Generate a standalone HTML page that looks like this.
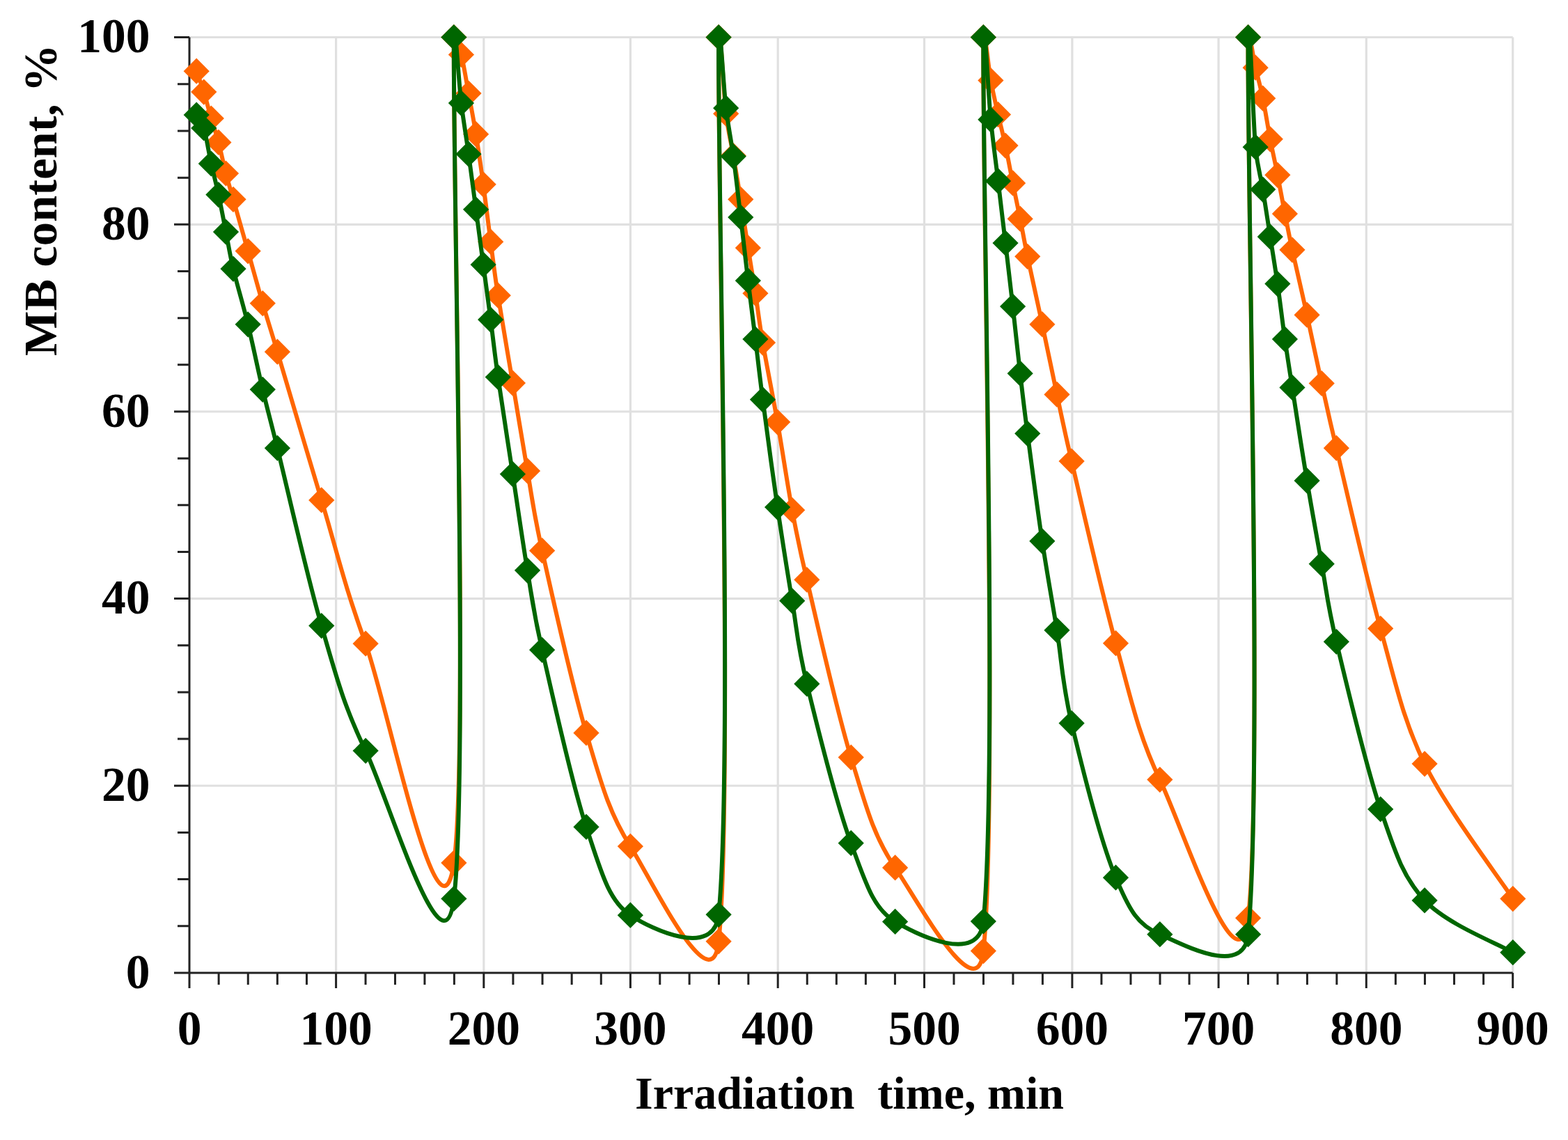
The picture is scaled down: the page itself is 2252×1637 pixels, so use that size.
<!DOCTYPE html>
<html><head><meta charset="utf-8"><title>MB content chart</title>
<style>html,body{margin:0;padding:0;background:#fff;overflow:hidden;}svg{display:block;}</style>
</head><body>
<svg width="2252" height="1637" viewBox="0 0 2252 1637">
<rect width="2252" height="1637" fill="#ffffff"/>
<path d="M272.0,1128.26H2172.7M272.0,859.62H2172.7M272.0,590.98H2172.7M272.0,322.34H2172.7M272.0,53.50H2172.7M482.60,53.5V1396.9M694.80,53.5V1396.9M905.40,53.5V1396.9M1117.20,53.5V1396.9M1327.50,53.5V1396.9M1539.90,53.5V1396.9M1750.10,53.5V1396.9M1962.30,53.5V1396.9M2172.70,53.5V1396.9" stroke="#e0e0e0" stroke-width="3.2" fill="none"/>
<path d="M272.0,53.50V1396.90M250.0,1396.90H2172.70M250.0,1396.90H272.0M255.0,1329.74H272.0M255.0,1262.58H272.0M255.0,1195.42H272.0M250.0,1128.26H272.0M255.0,1061.10H272.0M255.0,993.94H272.0M255.0,926.78H272.0M250.0,859.62H272.0M255.0,792.46H272.0M255.0,725.30H272.0M255.0,658.14H272.0M250.0,590.98H272.0M255.0,523.82H272.0M255.0,456.66H272.0M255.0,389.50H272.0M250.0,322.34H272.0M255.0,255.18H272.0M255.0,188.02H272.0M255.0,120.86H272.0M250.0,53.50H272.0M272.00,1396.90V1418.90M314.12,1396.90V1413.90M356.24,1396.90V1413.90M398.36,1396.90V1413.90M440.48,1396.90V1413.90M482.60,1396.90V1418.90M525.04,1396.90V1413.90M567.48,1396.90V1413.90M609.92,1396.90V1413.90M652.36,1396.90V1413.90M694.80,1396.90V1418.90M736.92,1396.90V1413.90M779.04,1396.90V1413.90M821.16,1396.90V1413.90M863.28,1396.90V1413.90M905.40,1396.90V1418.90M947.76,1396.90V1413.90M990.12,1396.90V1413.90M1032.48,1396.90V1413.90M1074.84,1396.90V1413.90M1117.20,1396.90V1418.90M1159.26,1396.90V1413.90M1201.32,1396.90V1413.90M1243.38,1396.90V1413.90M1285.44,1396.90V1413.90M1327.50,1396.90V1418.90M1369.98,1396.90V1413.90M1412.46,1396.90V1413.90M1454.94,1396.90V1413.90M1497.42,1396.90V1413.90M1539.90,1396.90V1418.90M1581.94,1396.90V1413.90M1623.98,1396.90V1413.90M1666.02,1396.90V1413.90M1708.06,1396.90V1413.90M1750.10,1396.90V1418.90M1792.54,1396.90V1413.90M1834.98,1396.90V1413.90M1877.42,1396.90V1413.90M1919.86,1396.90V1413.90M1962.30,1396.90V1418.90M2004.38,1396.90V1413.90M2046.46,1396.90V1413.90M2088.54,1396.90V1413.90M2130.62,1396.90V1413.90M2172.70,1396.90V1418.90" stroke="#222222" stroke-width="3" fill="none"/>
<defs><clipPath id="pa"><rect x="272.0" y="53.5" width="1903.7" height="1343.4"/></clipPath></defs>
<path clip-path="url(#pa)" d="M282.20,102.20 C283.96,107.18 289.24,120.80 292.76,132.10 C296.29,143.40 299.81,157.95 303.33,170.00 C306.85,182.05 310.37,191.23 313.89,204.40 C317.41,217.57 320.93,235.35 324.45,249.00 C327.97,262.65 329.73,267.70 335.01,286.30 C340.29,304.90 349.10,335.72 356.14,360.60 C363.18,385.48 370.22,411.50 377.26,435.60 C384.30,459.70 387.97,470.36 398.39,505.20 C412.47,552.30 440.64,648.37 461.76,718.20 C482.88,788.03 493.45,837.38 525.13,924.20 C556.82,1011.02 630.75,1384.22 651.88,1239.10 C673.00,1093.98 650.12,246.93 651.88,53.50 C652.00,39.93 659.00,65.37 662.44,78.50 C665.96,91.93 669.48,115.07 673.00,134.10 C676.52,153.13 680.05,170.92 683.57,192.70 C687.09,214.48 690.61,239.05 694.13,264.80 C697.65,290.55 701.17,320.63 704.69,347.20 C708.21,373.77 709.97,390.38 715.25,424.20 C720.53,458.02 729.34,508.10 736.38,550.10 C743.42,592.10 750.46,636.10 757.50,676.20 C764.54,716.30 765.87,733.90 778.63,790.70 C792.71,853.40 820.87,981.63 842.00,1052.40 C863.12,1123.17 873.69,1165.40 905.37,1215.30 C937.06,1265.20 1022.02,1444.39 1032.12,1351.80 C1053.24,1158.17 1030.36,251.60 1032.12,53.50 C1032.61,-1.60 1039.16,134.87 1042.68,163.20 C1046.20,191.53 1049.72,202.98 1053.24,223.50 C1056.76,244.02 1060.28,264.23 1063.80,286.30 C1067.33,308.37 1070.85,333.42 1074.37,355.90 C1077.89,378.38 1081.41,398.50 1084.93,421.20 C1088.45,443.90 1090.21,461.28 1095.49,492.10 C1100.77,522.92 1109.57,566.03 1116.62,606.10 C1123.66,646.17 1130.70,694.77 1137.74,732.50 C1144.78,770.23 1147.03,782.78 1158.86,832.50 C1172.95,891.68 1201.11,1018.70 1222.24,1087.60 C1243.36,1156.50 1253.92,1199.57 1285.61,1245.90 C1317.30,1292.23 1403.14,1452.28 1412.36,1365.60 C1433.48,1166.87 1410.60,261.85 1412.36,53.50 C1412.62,22.05 1419.40,97.02 1422.92,115.50 C1426.44,133.98 1429.96,148.80 1433.48,164.40 C1437.00,180.00 1440.52,192.68 1444.04,209.10 C1447.56,225.52 1451.09,245.38 1454.61,262.90 C1458.13,280.42 1461.65,296.63 1465.17,314.20 C1468.69,331.77 1470.45,343.05 1475.73,368.30 C1481.01,393.55 1489.81,432.68 1496.86,465.70 C1503.90,498.72 1510.94,533.63 1517.98,566.40 C1525.02,599.17 1527.80,614.52 1539.10,662.30 C1553.19,721.85 1581.35,847.48 1602.48,923.70 C1623.60,999.92 1634.16,1053.83 1665.85,1119.60 C1697.54,1185.37 1778.68,1435.32 1792.60,1318.30 C1813.72,1140.62 1790.84,257.02 1792.60,53.50 C1792.79,31.02 1799.64,82.58 1803.16,97.20 C1806.68,111.82 1810.20,124.10 1813.72,141.20 C1817.24,158.30 1820.76,181.45 1824.28,199.80 C1827.80,218.15 1831.32,233.45 1834.85,251.30 C1838.37,269.15 1841.89,288.98 1845.41,306.90 C1848.93,324.82 1850.69,334.58 1855.97,358.80 C1861.25,383.02 1870.05,420.25 1877.09,452.20 C1884.14,484.15 1891.18,518.63 1898.22,550.50 C1905.26,582.37 1908.23,597.08 1919.34,643.40 C1933.43,702.08 1961.59,827.03 1982.72,902.60 C2003.84,978.17 2014.40,1032.13 2046.09,1096.80 C2077.78,1161.47 2151.71,1258.30 2172.84,1290.60" stroke="#ff6600" stroke-width="6" fill="none" stroke-linejoin="round"/>
<g fill="#ff6600"><path d="M282.20,83.60l18.60,18.60l-18.60,18.60l-18.60,-18.60z"/><path d="M292.76,113.50l18.60,18.60l-18.60,18.60l-18.60,-18.60z"/><path d="M303.33,151.40l18.60,18.60l-18.60,18.60l-18.60,-18.60z"/><path d="M313.89,185.80l18.60,18.60l-18.60,18.60l-18.60,-18.60z"/><path d="M324.45,230.40l18.60,18.60l-18.60,18.60l-18.60,-18.60z"/><path d="M335.01,267.70l18.60,18.60l-18.60,18.60l-18.60,-18.60z"/><path d="M356.14,342.00l18.60,18.60l-18.60,18.60l-18.60,-18.60z"/><path d="M377.26,417.00l18.60,18.60l-18.60,18.60l-18.60,-18.60z"/><path d="M398.39,486.60l18.60,18.60l-18.60,18.60l-18.60,-18.60z"/><path d="M461.76,699.60l18.60,18.60l-18.60,18.60l-18.60,-18.60z"/><path d="M525.13,905.60l18.60,18.60l-18.60,18.60l-18.60,-18.60z"/><path d="M651.88,1220.50l18.60,18.60l-18.60,18.60l-18.60,-18.60z"/><path d="M651.88,34.90l18.60,18.60l-18.60,18.60l-18.60,-18.60z"/><path d="M662.44,59.90l18.60,18.60l-18.60,18.60l-18.60,-18.60z"/><path d="M673.00,115.50l18.60,18.60l-18.60,18.60l-18.60,-18.60z"/><path d="M683.57,174.10l18.60,18.60l-18.60,18.60l-18.60,-18.60z"/><path d="M694.13,246.20l18.60,18.60l-18.60,18.60l-18.60,-18.60z"/><path d="M704.69,328.60l18.60,18.60l-18.60,18.60l-18.60,-18.60z"/><path d="M715.25,405.60l18.60,18.60l-18.60,18.60l-18.60,-18.60z"/><path d="M736.38,531.50l18.60,18.60l-18.60,18.60l-18.60,-18.60z"/><path d="M757.50,657.60l18.60,18.60l-18.60,18.60l-18.60,-18.60z"/><path d="M778.63,772.10l18.60,18.60l-18.60,18.60l-18.60,-18.60z"/><path d="M842.00,1033.80l18.60,18.60l-18.60,18.60l-18.60,-18.60z"/><path d="M905.37,1196.70l18.60,18.60l-18.60,18.60l-18.60,-18.60z"/><path d="M1032.12,1333.20l18.60,18.60l-18.60,18.60l-18.60,-18.60z"/><path d="M1032.12,34.90l18.60,18.60l-18.60,18.60l-18.60,-18.60z"/><path d="M1042.68,144.60l18.60,18.60l-18.60,18.60l-18.60,-18.60z"/><path d="M1053.24,204.90l18.60,18.60l-18.60,18.60l-18.60,-18.60z"/><path d="M1063.80,267.70l18.60,18.60l-18.60,18.60l-18.60,-18.60z"/><path d="M1074.37,337.30l18.60,18.60l-18.60,18.60l-18.60,-18.60z"/><path d="M1084.93,402.60l18.60,18.60l-18.60,18.60l-18.60,-18.60z"/><path d="M1095.49,473.50l18.60,18.60l-18.60,18.60l-18.60,-18.60z"/><path d="M1116.62,587.50l18.60,18.60l-18.60,18.60l-18.60,-18.60z"/><path d="M1137.74,713.90l18.60,18.60l-18.60,18.60l-18.60,-18.60z"/><path d="M1158.86,813.90l18.60,18.60l-18.60,18.60l-18.60,-18.60z"/><path d="M1222.24,1069.00l18.60,18.60l-18.60,18.60l-18.60,-18.60z"/><path d="M1285.61,1227.30l18.60,18.60l-18.60,18.60l-18.60,-18.60z"/><path d="M1412.36,1347.00l18.60,18.60l-18.60,18.60l-18.60,-18.60z"/><path d="M1412.36,34.90l18.60,18.60l-18.60,18.60l-18.60,-18.60z"/><path d="M1422.92,96.90l18.60,18.60l-18.60,18.60l-18.60,-18.60z"/><path d="M1433.48,145.80l18.60,18.60l-18.60,18.60l-18.60,-18.60z"/><path d="M1444.04,190.50l18.60,18.60l-18.60,18.60l-18.60,-18.60z"/><path d="M1454.61,244.30l18.60,18.60l-18.60,18.60l-18.60,-18.60z"/><path d="M1465.17,295.60l18.60,18.60l-18.60,18.60l-18.60,-18.60z"/><path d="M1475.73,349.70l18.60,18.60l-18.60,18.60l-18.60,-18.60z"/><path d="M1496.86,447.10l18.60,18.60l-18.60,18.60l-18.60,-18.60z"/><path d="M1517.98,547.80l18.60,18.60l-18.60,18.60l-18.60,-18.60z"/><path d="M1539.10,643.70l18.60,18.60l-18.60,18.60l-18.60,-18.60z"/><path d="M1602.48,905.10l18.60,18.60l-18.60,18.60l-18.60,-18.60z"/><path d="M1665.85,1101.00l18.60,18.60l-18.60,18.60l-18.60,-18.60z"/><path d="M1792.60,1299.70l18.60,18.60l-18.60,18.60l-18.60,-18.60z"/><path d="M1792.60,34.90l18.60,18.60l-18.60,18.60l-18.60,-18.60z"/><path d="M1803.16,78.60l18.60,18.60l-18.60,18.60l-18.60,-18.60z"/><path d="M1813.72,122.60l18.60,18.60l-18.60,18.60l-18.60,-18.60z"/><path d="M1824.28,181.20l18.60,18.60l-18.60,18.60l-18.60,-18.60z"/><path d="M1834.85,232.70l18.60,18.60l-18.60,18.60l-18.60,-18.60z"/><path d="M1845.41,288.30l18.60,18.60l-18.60,18.60l-18.60,-18.60z"/><path d="M1855.97,340.20l18.60,18.60l-18.60,18.60l-18.60,-18.60z"/><path d="M1877.09,433.60l18.60,18.60l-18.60,18.60l-18.60,-18.60z"/><path d="M1898.22,531.90l18.60,18.60l-18.60,18.60l-18.60,-18.60z"/><path d="M1919.34,624.80l18.60,18.60l-18.60,18.60l-18.60,-18.60z"/><path d="M1982.72,884.00l18.60,18.60l-18.60,18.60l-18.60,-18.60z"/><path d="M2046.09,1078.20l18.60,18.60l-18.60,18.60l-18.60,-18.60z"/><path d="M2172.84,1272.00l18.60,18.60l-18.60,18.60l-18.60,-18.60z"/></g>
<path clip-path="url(#pa)" d="M282.20,165.00 C283.96,168.17 289.62,173.59 292.76,184.00 C296.29,195.67 299.81,219.07 303.33,235.00 C306.85,250.93 310.37,263.27 313.89,279.60 C317.41,295.93 320.93,315.25 324.45,333.00 C327.97,350.75 329.73,363.97 335.01,386.10 C340.29,408.23 349.10,436.93 356.14,465.80 C363.18,494.67 370.22,529.70 377.26,559.30 C384.30,588.90 387.91,601.33 398.39,643.40 C412.47,699.95 440.64,826.15 461.76,898.60 C482.88,971.05 493.45,1012.78 525.13,1078.10 C556.82,1143.42 636.70,1413.24 651.88,1290.50 C673.00,1119.73 650.12,243.90 651.88,53.50 C652.32,5.91 658.92,120.15 662.44,148.10 C665.96,176.05 669.48,195.75 673.00,221.20 C676.52,246.65 680.05,274.32 683.57,300.80 C687.09,327.28 690.61,353.72 694.13,380.10 C697.65,406.48 701.17,432.20 704.69,459.10 C708.21,486.00 709.97,504.55 715.25,541.50 C720.53,578.45 729.34,634.53 736.38,680.80 C743.42,727.07 750.46,777.02 757.50,819.10 C764.54,861.18 765.64,876.70 778.63,933.30 C792.71,994.68 820.87,1123.92 842.00,1187.40 C863.12,1250.88 873.69,1293.22 905.37,1314.20 C937.06,1335.18 1025.78,1376.36 1032.12,1313.30 C1053.24,1103.18 1030.36,246.52 1032.12,53.50 C1032.58,2.38 1039.16,126.68 1042.68,155.20 C1046.20,183.72 1049.72,198.47 1053.24,224.60 C1056.76,250.73 1060.28,282.28 1063.80,312.00 C1067.33,341.72 1070.85,373.73 1074.37,402.90 C1077.89,432.07 1081.41,458.52 1084.93,487.00 C1088.45,515.48 1090.21,533.58 1095.49,573.80 C1100.77,614.02 1109.57,680.13 1116.62,728.30 C1123.66,776.47 1130.70,820.53 1137.74,862.80 C1144.78,905.07 1144.78,923.92 1158.86,981.90 C1172.95,1039.88 1201.11,1153.78 1222.24,1210.70 C1243.36,1267.62 1253.92,1304.68 1285.61,1323.40 C1317.30,1342.12 1406.06,1386.06 1412.36,1323.00 C1433.48,1111.35 1410.60,245.38 1412.36,53.50 C1412.90,-5.83 1419.40,137.30 1422.92,171.70 C1426.44,206.10 1429.96,230.35 1433.48,259.90 C1437.00,289.45 1440.52,318.98 1444.04,349.00 C1447.56,379.02 1451.09,408.80 1454.61,440.00 C1458.13,471.20 1461.65,505.77 1465.17,536.20 C1468.69,566.63 1470.45,582.45 1475.73,622.60 C1481.01,662.75 1489.81,730.03 1496.86,777.10 C1503.90,824.17 1510.94,861.42 1517.98,905.00 C1525.02,948.58 1525.02,979.40 1539.10,1038.60 C1553.19,1097.80 1581.35,1209.68 1602.48,1260.20 C1622.39,1307.82 1634.16,1328.12 1665.85,1341.70 C1697.54,1355.28 1786.39,1404.77 1792.60,1341.70 C1813.72,1127.00 1790.84,241.92 1792.60,53.50 C1793.34,-25.52 1799.64,174.77 1803.16,211.20 C1806.13,241.96 1810.20,250.65 1813.72,272.10 C1817.24,293.55 1820.76,317.32 1824.28,339.90 C1827.80,362.48 1831.32,383.07 1834.85,407.60 C1838.37,432.13 1841.89,462.30 1845.41,487.10 C1848.93,511.90 1850.69,522.55 1855.97,556.40 C1861.25,590.25 1870.05,647.98 1877.09,690.20 C1884.14,732.42 1891.18,771.15 1898.22,809.70 C1905.26,848.25 1906.07,866.18 1919.34,921.50 C1933.43,980.22 1961.59,1100.10 1982.72,1162.00 C2003.84,1223.90 2014.40,1258.62 2046.09,1292.90 C2077.78,1327.18 2151.71,1355.23 2172.84,1367.70" stroke="#006600" stroke-width="6" fill="none" stroke-linejoin="round"/>
<g fill="#006600"><path d="M282.20,146.40l18.60,18.60l-18.60,18.60l-18.60,-18.60z"/><path d="M292.76,165.40l18.60,18.60l-18.60,18.60l-18.60,-18.60z"/><path d="M303.33,216.40l18.60,18.60l-18.60,18.60l-18.60,-18.60z"/><path d="M313.89,261.00l18.60,18.60l-18.60,18.60l-18.60,-18.60z"/><path d="M324.45,314.40l18.60,18.60l-18.60,18.60l-18.60,-18.60z"/><path d="M335.01,367.50l18.60,18.60l-18.60,18.60l-18.60,-18.60z"/><path d="M356.14,447.20l18.60,18.60l-18.60,18.60l-18.60,-18.60z"/><path d="M377.26,540.70l18.60,18.60l-18.60,18.60l-18.60,-18.60z"/><path d="M398.39,624.80l18.60,18.60l-18.60,18.60l-18.60,-18.60z"/><path d="M461.76,880.00l18.60,18.60l-18.60,18.60l-18.60,-18.60z"/><path d="M525.13,1059.50l18.60,18.60l-18.60,18.60l-18.60,-18.60z"/><path d="M651.88,1271.90l18.60,18.60l-18.60,18.60l-18.60,-18.60z"/><path d="M651.88,34.90l18.60,18.60l-18.60,18.60l-18.60,-18.60z"/><path d="M662.44,129.50l18.60,18.60l-18.60,18.60l-18.60,-18.60z"/><path d="M673.00,202.60l18.60,18.60l-18.60,18.60l-18.60,-18.60z"/><path d="M683.57,282.20l18.60,18.60l-18.60,18.60l-18.60,-18.60z"/><path d="M694.13,361.50l18.60,18.60l-18.60,18.60l-18.60,-18.60z"/><path d="M704.69,440.50l18.60,18.60l-18.60,18.60l-18.60,-18.60z"/><path d="M715.25,522.90l18.60,18.60l-18.60,18.60l-18.60,-18.60z"/><path d="M736.38,662.20l18.60,18.60l-18.60,18.60l-18.60,-18.60z"/><path d="M757.50,800.50l18.60,18.60l-18.60,18.60l-18.60,-18.60z"/><path d="M778.63,914.70l18.60,18.60l-18.60,18.60l-18.60,-18.60z"/><path d="M842.00,1168.80l18.60,18.60l-18.60,18.60l-18.60,-18.60z"/><path d="M905.37,1295.60l18.60,18.60l-18.60,18.60l-18.60,-18.60z"/><path d="M1032.12,1294.70l18.60,18.60l-18.60,18.60l-18.60,-18.60z"/><path d="M1032.12,34.90l18.60,18.60l-18.60,18.60l-18.60,-18.60z"/><path d="M1042.68,136.60l18.60,18.60l-18.60,18.60l-18.60,-18.60z"/><path d="M1053.24,206.00l18.60,18.60l-18.60,18.60l-18.60,-18.60z"/><path d="M1063.80,293.40l18.60,18.60l-18.60,18.60l-18.60,-18.60z"/><path d="M1074.37,384.30l18.60,18.60l-18.60,18.60l-18.60,-18.60z"/><path d="M1084.93,468.40l18.60,18.60l-18.60,18.60l-18.60,-18.60z"/><path d="M1095.49,555.20l18.60,18.60l-18.60,18.60l-18.60,-18.60z"/><path d="M1116.62,709.70l18.60,18.60l-18.60,18.60l-18.60,-18.60z"/><path d="M1137.74,844.20l18.60,18.60l-18.60,18.60l-18.60,-18.60z"/><path d="M1158.86,963.30l18.60,18.60l-18.60,18.60l-18.60,-18.60z"/><path d="M1222.24,1192.10l18.60,18.60l-18.60,18.60l-18.60,-18.60z"/><path d="M1285.61,1304.80l18.60,18.60l-18.60,18.60l-18.60,-18.60z"/><path d="M1412.36,1304.40l18.60,18.60l-18.60,18.60l-18.60,-18.60z"/><path d="M1412.36,34.90l18.60,18.60l-18.60,18.60l-18.60,-18.60z"/><path d="M1422.92,153.10l18.60,18.60l-18.60,18.60l-18.60,-18.60z"/><path d="M1433.48,241.30l18.60,18.60l-18.60,18.60l-18.60,-18.60z"/><path d="M1444.04,330.40l18.60,18.60l-18.60,18.60l-18.60,-18.60z"/><path d="M1454.61,421.40l18.60,18.60l-18.60,18.60l-18.60,-18.60z"/><path d="M1465.17,517.60l18.60,18.60l-18.60,18.60l-18.60,-18.60z"/><path d="M1475.73,604.00l18.60,18.60l-18.60,18.60l-18.60,-18.60z"/><path d="M1496.86,758.50l18.60,18.60l-18.60,18.60l-18.60,-18.60z"/><path d="M1517.98,886.40l18.60,18.60l-18.60,18.60l-18.60,-18.60z"/><path d="M1539.10,1020.00l18.60,18.60l-18.60,18.60l-18.60,-18.60z"/><path d="M1602.48,1241.60l18.60,18.60l-18.60,18.60l-18.60,-18.60z"/><path d="M1665.85,1323.10l18.60,18.60l-18.60,18.60l-18.60,-18.60z"/><path d="M1792.60,1323.10l18.60,18.60l-18.60,18.60l-18.60,-18.60z"/><path d="M1792.60,34.90l18.60,18.60l-18.60,18.60l-18.60,-18.60z"/><path d="M1803.16,192.60l18.60,18.60l-18.60,18.60l-18.60,-18.60z"/><path d="M1813.72,253.50l18.60,18.60l-18.60,18.60l-18.60,-18.60z"/><path d="M1824.28,321.30l18.60,18.60l-18.60,18.60l-18.60,-18.60z"/><path d="M1834.85,389.00l18.60,18.60l-18.60,18.60l-18.60,-18.60z"/><path d="M1845.41,468.50l18.60,18.60l-18.60,18.60l-18.60,-18.60z"/><path d="M1855.97,537.80l18.60,18.60l-18.60,18.60l-18.60,-18.60z"/><path d="M1877.09,671.60l18.60,18.60l-18.60,18.60l-18.60,-18.60z"/><path d="M1898.22,791.10l18.60,18.60l-18.60,18.60l-18.60,-18.60z"/><path d="M1919.34,902.90l18.60,18.60l-18.60,18.60l-18.60,-18.60z"/><path d="M1982.72,1143.40l18.60,18.60l-18.60,18.60l-18.60,-18.60z"/><path d="M2046.09,1274.30l18.60,18.60l-18.60,18.60l-18.60,-18.60z"/><path d="M2172.84,1349.10l18.60,18.60l-18.60,18.60l-18.60,-18.60z"/></g>
<g font-family="'Liberation Serif',serif" font-weight="bold" font-size="69.5" fill="#000"><text x="215.5" y="1418.6" text-anchor="end">0</text><text x="215.5" y="1150.0" text-anchor="end">20</text><text x="215.5" y="881.3" text-anchor="end">40</text><text x="215.5" y="612.7" text-anchor="end">60</text><text x="215.5" y="344.0" text-anchor="end">80</text><text x="215.5" y="75.2" text-anchor="end">100</text><text x="272.0" y="1499.5" text-anchor="middle">0</text><text x="482.6" y="1499.5" text-anchor="middle">100</text><text x="694.8" y="1499.5" text-anchor="middle">200</text><text x="905.4" y="1499.5" text-anchor="middle">300</text><text x="1117.2" y="1499.5" text-anchor="middle">400</text><text x="1327.5" y="1499.5" text-anchor="middle">500</text><text x="1539.9" y="1499.5" text-anchor="middle">600</text><text x="1750.1" y="1499.5" text-anchor="middle">700</text><text x="1962.3" y="1499.5" text-anchor="middle">800</text><text x="2172.7" y="1499.5" text-anchor="middle">900</text></g>
<text font-family="'Liberation Serif',serif" font-weight="bold" font-size="66" fill="#000" x="1220" y="1592" text-anchor="middle" xml:space="preserve" style="white-space:pre">Irradiation  time, min</text>
<text font-family="'Liberation Serif',serif" font-weight="bold" font-size="68.6" fill="#000" transform="translate(81.3,287.4) rotate(-90)" text-anchor="middle">MB content, %</text>
</svg>
</body></html>
